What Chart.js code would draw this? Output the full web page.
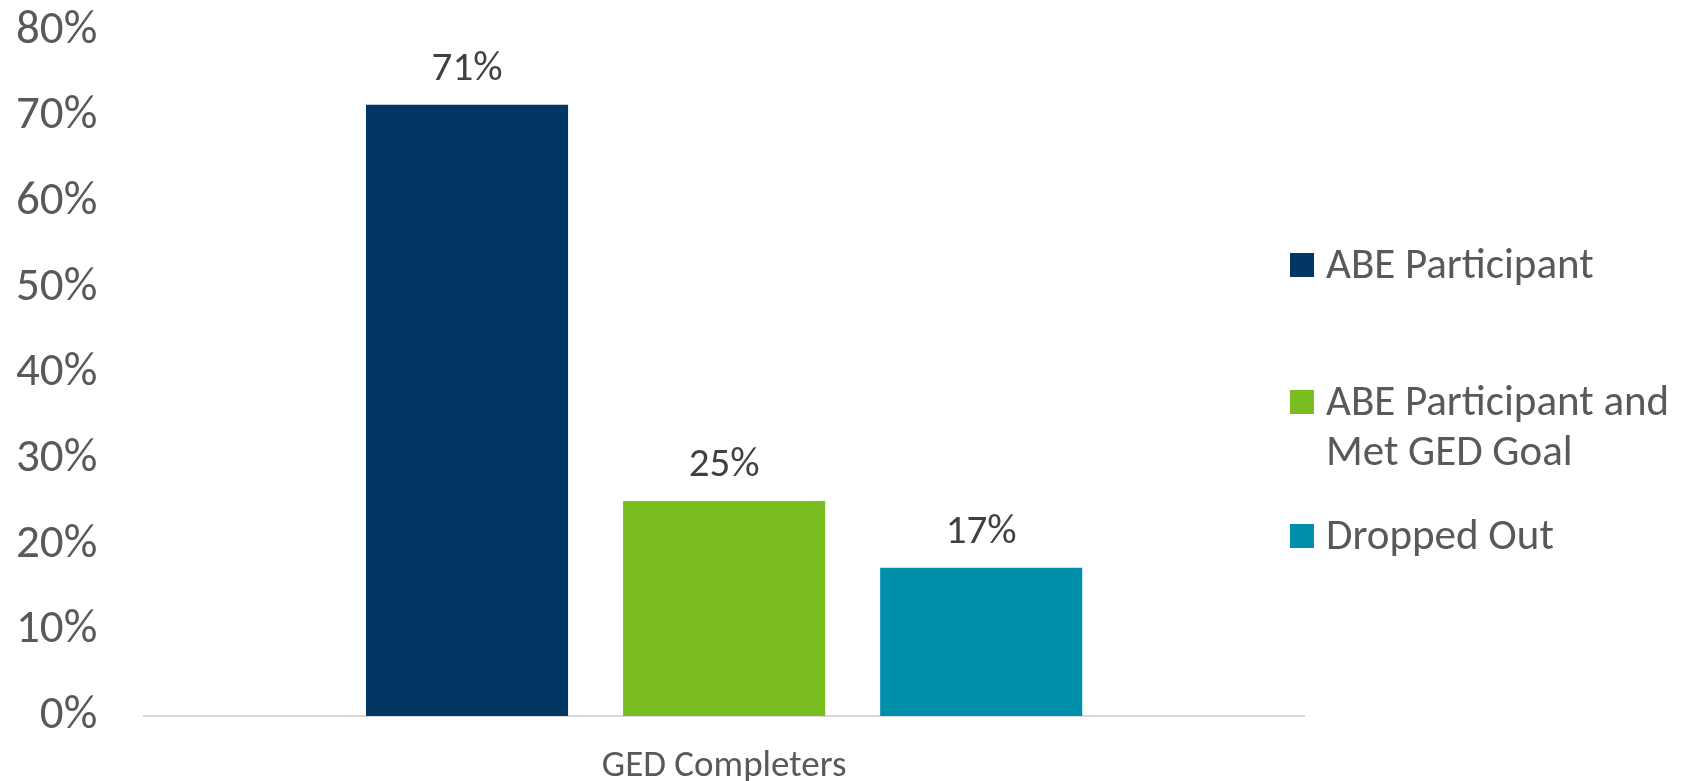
<!DOCTYPE html>
<html>
<head>
<meta charset="utf-8">
<script src="https://cdn.jsdelivr.net/npm/chart.js@4.4.1/dist/chart.umd.min.js"></script>
<style>
  html, body { margin: 0; padding: 0; background: #fff; }
  #wrap { width: 1693px; height: 781px; position: relative; }
</style>
</head>
<body>
<div id="wrap"><canvas id="gedChart"></canvas></div>
<script>
const categories = ['GED Completers'];
const seriesNames = ['ABE Participant', 'ABE Participant and Met GED Goal', 'Dropped Out'];
const seriesValues = [[71.4], [25.1], [17.3]];
const seriesColors = ['#023764', '#79BD21', '#008FAB'];
const yTicks = [0, 10, 20, 30, 40, 50, 60, 70, 80];

const FONT = 'Carlito, Lato, sans-serif';

// value labels above each bar
const barLabels = {
  id: 'barLabels',
  afterDatasetsDraw(chart) {
    const ctx = chart.ctx;
    ctx.save();
    ctx.font = '41px ' + FONT;
    ctx.fillStyle = '#404040';
    ctx.textAlign = 'center';
    ctx.textBaseline = 'middle';
    chart.data.datasets.forEach((ds, i) => {
      chart.getDatasetMeta(i).data.forEach((bar, j) => {
        ctx.fillText(Math.round(ds.data[j]) + '%', bar.x, bar.y - 35);
      });
    });
    ctx.restore();
  }
};

// legend on the right, with wrapped labels like the original
const sideLegend = {
  id: 'sideLegend',
  afterDraw(chart) {
    const ctx = chart.ctx;
    const left = chart.width - 403;
    const maxW = 360;
    const rowY = [265, 402, 536];
    const lineH = 50;
    ctx.save();
    ctx.font = '43px ' + FONT;
    ctx.textBaseline = 'middle';
    chart.data.datasets.forEach((ds, i) => {
      // wrap text
      const words = ds.label.split(' ');
      const lines = [];
      let cur = '';
      words.forEach(w => {
        const t = cur ? cur + ' ' + w : w;
        if (ctx.measureText(t).width > maxW && cur) {
          lines.push(cur);
          cur = w;
        } else {
          cur = t;
        }
      });
      lines.push(cur);
      const y = rowY[i];
      ctx.fillStyle = ds.backgroundColor;
      ctx.fillRect(left, y - 12, 24, 24);
      ctx.fillStyle = '#595959';
      lines.forEach((ln, k) => ctx.fillText(ln, left + 36, y + 2 + k * lineH));
    });
    ctx.restore();
  }
};

// chart.js counts tick padding twice when sizing an axis; take one off
const X_PAD = 32;
const Y_PAD = 47;

const ctx = document.getElementById('gedChart').getContext('2d');
new Chart(ctx, {
  type: 'bar',
  data: {
    labels: categories,
    datasets: seriesNames.map((name, i) => ({
      label: name,
      data: seriesValues[i],
      backgroundColor: seriesColors[i],
      categoryPercentage: 0.665,
      barPercentage: 0.786
    }))
  },
  options: {
    responsive: true,
    maintainAspectRatio: false,
    animation: false,
    layout: {
      padding: { top: 31, right: 389, bottom: -4, left: 16 }
    },
    scales: {
      x: {
        afterFit: axis => {
          axis.height -= X_PAD;
          axis.paddingLeft = 0;
          axis.paddingRight = 0;
        },
        grid: { display: false, drawTicks: false },
        border: { display: true, color: '#d9d9d9', width: 2 },
        ticks: {
          color: '#595959',
          font: { family: FONT, size: 37, lineHeight: 1 },
          padding: X_PAD
        }
      },
      y: {
        min: 0,
        max: 80,
        afterBuildTicks: axis => {
          axis.ticks = yTicks.map(v => ({ value: v }));
        },
        afterFit: axis => {
          axis.width -= Y_PAD;
          axis.paddingTop = 0;
          axis.paddingBottom = 0;
        },
        grid: { display: false, drawTicks: false },
        border: { display: false },
        ticks: {
          color: '#595959',
          font: { family: FONT, size: 47 },
          padding: Y_PAD,
          callback: v => v + '%'
        }
      }
    },
    plugins: {
      legend: { display: false },
      tooltip: { enabled: false }
    }
  },
  plugins: [barLabels, sideLegend]
});
</script>
</body>
</html>
